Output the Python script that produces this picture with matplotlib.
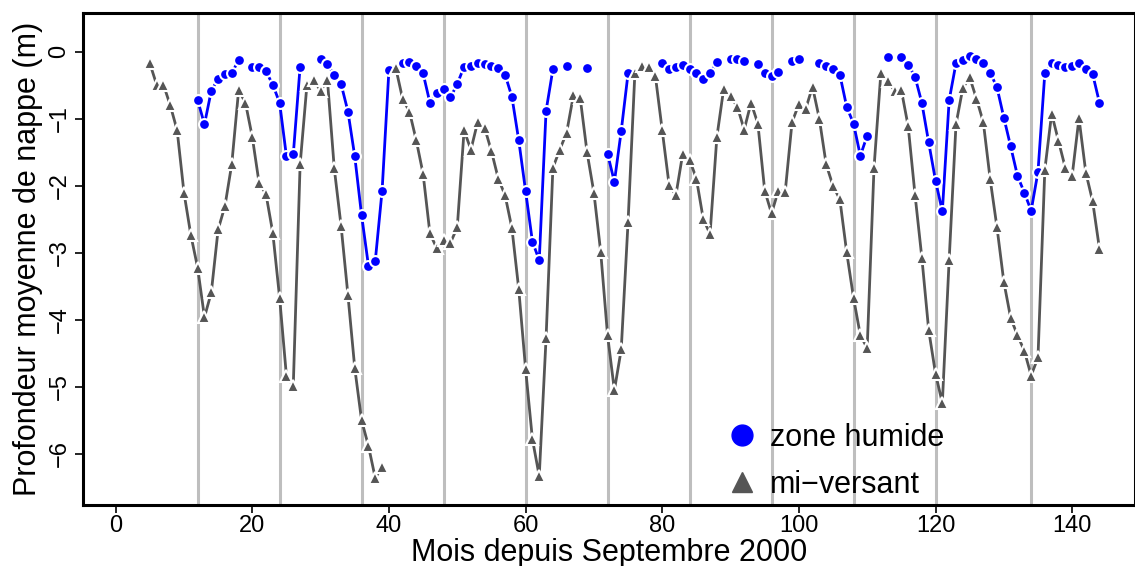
import numpy as np
import matplotlib
matplotlib.use("Agg")
import matplotlib.pyplot as plt
from matplotlib.lines import Line2D

plt.rcParams['font.family'] = ['Liberation Sans', 'DejaVu Sans']

nan = np.nan

# mi-versant, months 5..144
mi_start = 5
mi_versant = [
    -0.17, -0.49, -0.49, -0.80, -1.17, -2.10, -2.73, -3.22, -3.96, -3.59,   # 5-14
    -2.65, -2.30, -1.67, -0.57, -0.76, -1.27, -1.96, -2.12, -2.70, -3.67,   # 15-24
    -4.84, -4.98, -1.68, -0.49, -0.42, -0.58, -0.42, -1.74, -2.60, -3.63,   # 25-34
    -4.72, -5.50, -5.88, -6.36, -6.19, nan, -0.24, -0.70, -0.89, -1.32,     # 35-44
    -1.82, -2.71, -2.93, -2.81, -2.85, -2.62, -1.17, -1.46, -1.04, -1.13,   # 45-54
    -1.48, -1.89, -2.14, -2.63, -3.54, -4.73, -5.78, -6.33, -4.27, -1.73,   # 55-64
    -1.46, -1.21, -0.65, -0.69, -1.50, -2.10, -2.99, -4.23, -5.05, -4.44,   # 65-74
    -2.54, -0.31, -0.21, -0.22, -0.36, -1.17, -1.98, -2.14, -1.52, -1.61,   # 75-84
    -1.89, -2.49, -2.72, -1.27, -0.55, -0.66, -0.82, -1.16, -0.76, -1.07,   # 85-94
    -2.07, -2.41, -2.07, -2.09, -1.05, -0.78, -0.85, -0.52, -1.00, -1.68,   # 95-104
    -2.00, -2.20, -2.99, -3.67, -4.23, -4.42, -1.73, -0.32, -0.43, -0.58,   # 105-114
    -0.57, -1.11, -2.13, -3.07, -4.15, -4.80, -5.24, -3.10, -1.08, -0.54,   # 115-124
    -0.38, -0.70, -1.05, -1.90, -2.62, -3.43, -3.97, -4.23, -4.46, -4.83,   # 125-134
    -4.56, -1.76, -0.92, -1.33, -1.73, -1.85, -0.99, -1.80, -2.23, -2.94,   # 135-144
]

# zone humide, months 12..144
zh_start = 12
zone_humide = [
    -0.72, -1.08, -0.58, -0.40, -0.33, -0.32, -0.12, nan, -0.22, -0.23,     # 12-21
    -0.29, -0.49, -0.76, -1.56, -1.53, -0.22, nan, nan, -0.10, -0.18,       # 22-31
    -0.35, -0.48, -0.89, -1.56, -2.44, -3.19, -3.12, -2.07, -0.27, nan,     # 32-41
    -0.16, -0.15, -0.21, -0.32, -0.76, -0.62, -0.55, -0.68, -0.48, -0.22,   # 42-51
    -0.21, -0.16, -0.18, -0.21, -0.24, -0.34, -0.67, -1.32, -2.07, -2.83,   # 52-61
    -3.11, -0.88, -0.26, nan, -0.21, nan, nan, -0.24, nan, nan,             # 62-71
    -1.52, -1.94, -1.18, -0.32, nan, nan, nan, nan, -0.17, -0.25,           # 72-81
    -0.22, -0.19, -0.26, -0.32, -0.41, -0.32, -0.15, nan, -0.11, -0.10,     # 82-91
    -0.14, nan, -0.18, -0.31, -0.36, -0.30, nan, -0.13, -0.10, nan,         # 92-101
    nan, -0.17, -0.21, -0.26, -0.34, -0.82, -1.07, -1.55, -1.25, nan,       # 102-111
    nan, -0.07, nan, -0.07, -0.19, -0.37, -0.76, -1.35, -1.92, -2.38,       # 112-121
    -0.72, -0.17, -0.12, -0.06, -0.10, -0.17, -0.31, -0.53, -0.98, -1.41,   # 122-131
    -1.85, -2.10, -2.37, -1.79, -0.32, -0.17, -0.19, -0.22, -0.21, -0.17,   # 132-141
    -0.26, -0.33, -0.76,                                                     # 142-144
]

year_marks = [12, 24, 36, 48, 60, 72, 84, 96, 108, 120, 134]

mi_months = np.arange(mi_start, mi_start + len(mi_versant))
zh_months = np.arange(zh_start, zh_start + len(zone_humide))

blue = '#0000FF'
grey = '#555555'

fig = plt.figure(figsize=(11.35, 5.66), dpi=100)
ax = fig.add_axes([0.073, 0.108, 0.927, 0.869])

for m in year_marks:
    ax.axvline(m, color='#BEBEBE', lw=2.2, zorder=1)

ax.plot(zh_months, zone_humide, '-o', color=blue, lw=2.0, ms=7.8,
        mec='white', mew=1.5, zorder=3)
ax.plot(mi_months, mi_versant, '-^', color=grey, lw=2.0, ms=8.5,
        mec='white', mew=1.5, zorder=4)

ax.set_xlim(-4.8, 149.2)
ax.set_ylim(-6.76, 0.58)
ax.set_xticks([0, 20, 40, 60, 80, 100, 120, 140])
ax.set_yticks([0, -1, -2, -3, -4, -5, -6])
ax.set_yticklabels(['0', '\u22121', '\u22122', '\u22123', '\u22124', '\u22125', '\u22126'],
                   rotation=90, va='center')
ax.tick_params(labelsize=17, length=6, width=1.2)
ax.tick_params(axis='x', pad=1)
ax.tick_params(axis='y', pad=3)

for s in ax.spines.values():
    s.set_linewidth(2.2)

ax.set_xlabel('Mois depuis Septembre 2000', fontsize=22, labelpad=1)
ax.set_ylabel('Profondeur moyenne de nappe (m)', fontsize=22, labelpad=4)

handles = [
    Line2D([], [], ls='none', marker='o', color=blue, ms=15),
    Line2D([], [], ls='none', marker='^', color=grey, ms=15),
]
ax.legend(handles, ['zone humide', 'mi\u2212versant'], loc='lower left',
          bbox_to_anchor=(0.583, -0.045), frameon=False, fontsize=22,
          handletextpad=0.3, labelspacing=0.55, handlelength=1.2)

fig.savefig('out.png', dpi=100)
